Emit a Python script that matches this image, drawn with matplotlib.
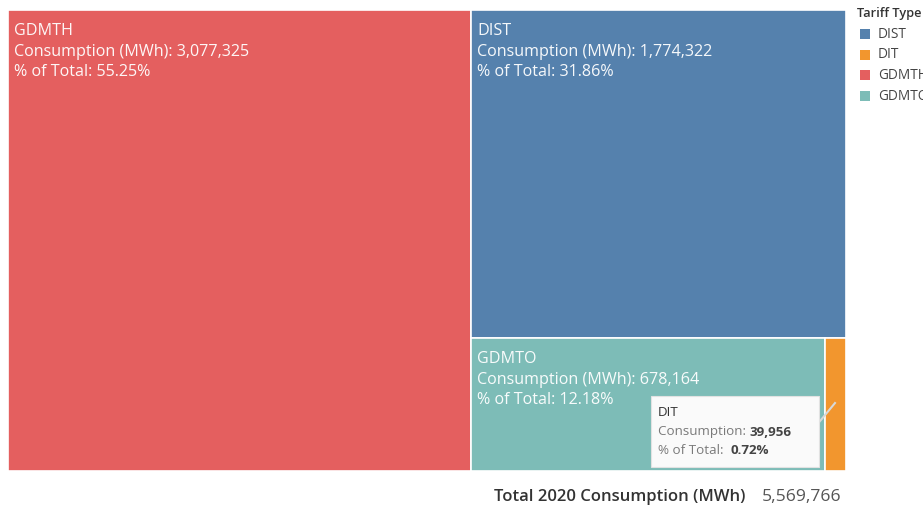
import matplotlib.pyplot as plt
from matplotlib.patches import Rectangle

plt.rcParams['font.family'] = ['Open Sans', 'DejaVu Sans']

tariffs = ["GDMTH", "DIST", "GDMTO", "DIT"]
consumption = [3077325, 1774322, 678164, 39956]
pct = [55.25, 31.86, 12.18, 0.72]
total_2020 = 5569766
colors = {"GDMTH": "#E45F5F", "DIST": "#5581AD", "GDMTO": "#7DBCB7", "DIT": "#F2962E"}
legend_order = ["DIST", "DIT", "GDMTH", "GDMTO"]
total = sum(consumption)

fig = plt.figure(figsize=(9.23, 5.08), dpi=100)
ax = fig.add_axes([8 / 923, 37 / 508, 838 / 923, 461 / 508])
ax.set_xlim(0, 1)
ax.set_ylim(1, 0)
ax.axis("off")

# slice-and-dice layout: GDMTH column, then DIST on top, GDMTO + DIT below
rects = {}
w0 = consumption[0] / total
rects["GDMTH"] = (0, 0, w0, 1)
rest = sum(consumption[1:])
h1 = consumption[1] / rest
rects["DIST"] = (w0, 0, 1 - w0, h1)
bottom = consumption[2] + consumption[3]
w2 = (1 - w0) * consumption[2] / bottom
rects["GDMTO"] = (w0, h1, w2, 1 - h1)
rects["DIT"] = (w0 + w2, h1, 1 - w0 - w2, 1 - h1)

for name in tariffs:
    x, y, w, h = rects[name]
    ax.add_patch(Rectangle((x, y), w, h, facecolor=colors[name],
                           edgecolor="white", linewidth=1.2))

for name, val, p in zip(tariffs, consumption, pct):
    if name == "DIT":
        continue
    x, y, w, h = rects[name]
    ax.annotate(f"{name}\nConsumption (MWh): {val:,}\n% of Total: {p:.2f}%",
                (x, y), xytext=(4.5, -9.5), textcoords="offset points",
                ha="left", va="top", color="white", fontsize=11.6,
                linespacing=1.36, alpha=0.95)

# tooltip-like callout for DIT
ax.add_patch(Rectangle((643 / 838, (396 - 10) / 461), 168 / 838, 71 / 461,
                       facecolor="#FAFAFA", edgecolor="#E2E2E2",
                       linewidth=0.8, zorder=5))
ax.plot([803 / 838, 827 / 838], [(432 - 10) / 461, (403 - 10) / 461],
        color="#D8D8D8", linewidth=1.5, zorder=4)
bx = 650 / 838
rows = [(413, "DIT", None), (432, "Consumption: ", f"{consumption[3]:,}"),
        (451, "% of Total:  ", f"{pct[3]:.2f}%")]
for yy, lab, val in rows:
    yd = (yy - 10) / 461
    if val is None:
        ax.text(bx, yd, lab, fontsize=9.6, color="#333333", va="center", zorder=6)
        continue
    t = ax.text(bx, yd, lab, fontsize=9.6, color="#7A7A7A", va="center", zorder=6)
    ax.annotate(val, xycoords=t, xy=(1, 0.5), va="center",
                fontsize=9.6, color="#444444", fontweight="bold", zorder=6)

# footer total
fig.text(745 / 923, 1 - 497 / 508, "Total 2020 Consumption (MWh)", ha="right",
         va="center", fontsize=12, color="#333333", fontweight="semibold")
fig.text(762 / 923, 1 - 497 / 508, f"{total_2020:,}", ha="left", va="center",
         fontsize=12.6, color="#555555")

# legend
fig.text(857 / 923, 1 - 14 / 508, "Tariff Type", ha="left", va="center",
         fontsize=9.2, color="#333333", fontweight="semibold")
for i, name in enumerate(legend_order):
    yc = 34 + i * 20.7
    fig.patches.append(Rectangle((860 / 923, 1 - (yc + 5) / 508), 10 / 923, 10 / 508,
                                 transform=fig.transFigure, facecolor=colors[name],
                                 edgecolor="none"))
    fig.text(878 / 923, 1 - yc / 508, name, ha="left", va="center",
             fontsize=9.8, color="#444444")

fig.savefig("out.png", dpi=100)
